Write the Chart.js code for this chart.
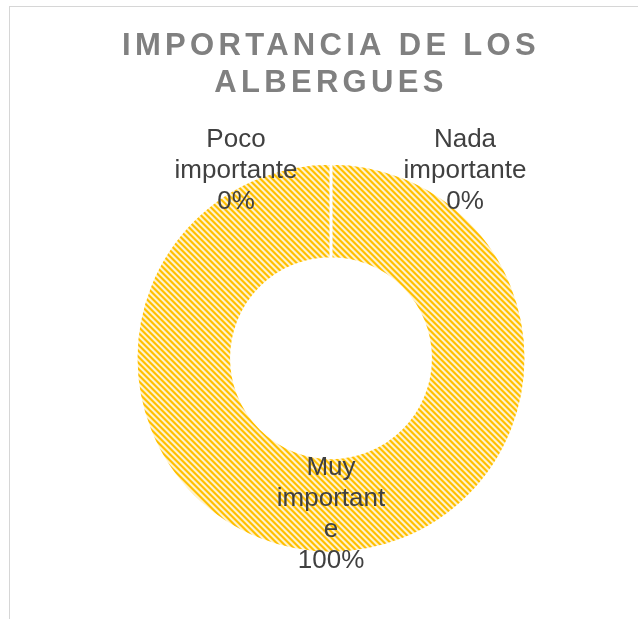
<!DOCTYPE html>
<html lang="es">
<head>
<meta charset="UTF-8">
<title>Importancia de los albergues</title>
<script src="https://cdn.jsdelivr.net/npm/chart.js"></script>
<style>
    html, body { margin: 0; padding: 0; background: #fff; overflow: hidden; }
    #marco {
        position: absolute; left: 9px; top: 6px;
        width: 640px; height: 620px;
        border: 1px solid #d6d6d6;
    }
    #grafico { display: block; }
</style>
</head>
<body>
<div id="marco">
    <canvas id="grafico" width="640" height="620"></canvas>
</div>

<script>
    // datos del grafico
    var categorias = ['Nada importante', 'Poco importante', 'Muy importante'];
    var valores = [0, 0, 100];
    // como Excel corta las etiquetas
    var etiquetas = [
        ['Nada', 'importante', '0%'],
        ['Poco', 'importante', '0%'],
        ['Muy', 'important', 'e', '100%']
    ];
    var titulo = ['IMPORTANCIA DE LOS', 'ALBERGUES'];

    function crearTrama() {
        var c = document.createElement('canvas');
        c.width = 6; c.height = 6;
        var g = c.getContext('2d');
        var tonos = ['#ffc000', '#ffc000', '#ffd24d', '#fff2cc', '#fff2cc', '#ffdf80'];
        for (var x = 0; x < 6; x++) {
            for (var y = 0; y < 6; y++) {
                var d = ((x - y) % 6 + 6) % 6;
                g.fillStyle = tonos[d];
                g.fillRect(x, y, 1, 1);
            }
        }
        return g.createPattern(c, 'repeat');
    }

    var espaciado = {
        id: 'espaciado',
        beforeDraw: function(chart) { chart.ctx.letterSpacing = '4.3px'; },
        beforeDatasetsDraw: function(chart) { chart.ctx.letterSpacing = '0px'; }
    };

    // desplazamiento de cada etiqueta respecto al centro del arco
    var desplazamientos = [[134, -40], [-95, -40], [0, 9]];

    var etiquetasPlugin = {
        id: 'etiquetas',
        afterDatasetsDraw: function(chart) {
            var ctx = chart.ctx;
            var meta = chart.getDatasetMeta(0);
            ctx.save();
            ctx.letterSpacing = '0px';
            ctx.font = '26px "Liberation Sans", Arial, sans-serif';
            ctx.fillStyle = '#404040';
            ctx.textAlign = 'center';
            ctx.textBaseline = 'middle';
            meta.data.forEach(function(arc, i) {
                var p = arc.tooltipPosition();
                var lineas = etiquetas[i];
                var alto = 31;
                var x = p.x + desplazamientos[i][0];
                var y0 = p.y + desplazamientos[i][1] - (lineas.length - 1) * alto / 2;
                lineas.forEach(function(t, k) {
                    ctx.fillText(t, x, y0 + k * alto);
                });
            });
            ctx.restore();
        }
    };

    var ctx = document.getElementById('grafico').getContext('2d');
    var chart = new Chart(ctx, {
        type: 'doughnut',
        data: {
            labels: categorias,
            datasets: [{
                data: valores,
                backgroundColor: crearTrama(),
                borderColor: '#ffffff',
                borderWidth: 3
            }]
        },
        options: {
            responsive: false,
            animation: false,
            cutout: '51%',
            radius: 195,
            layout: { padding: { top: 21, bottom: 72, left: 2, right: 0 } },
            plugins: {
                legend: { display: false },
                tooltip: { enabled: false },
                title: {
                    display: true,
                    text: titulo,
                    color: '#808080',
                    font: { family: '"Liberation Sans", Arial, sans-serif', size: 31, weight: 'bold', lineHeight: 1.2 },
                    padding: { top: 0, bottom: 59 }
                }
            }
        },
        plugins: [espaciado, etiquetasPlugin]
    });
</script>
</body>
</html>
